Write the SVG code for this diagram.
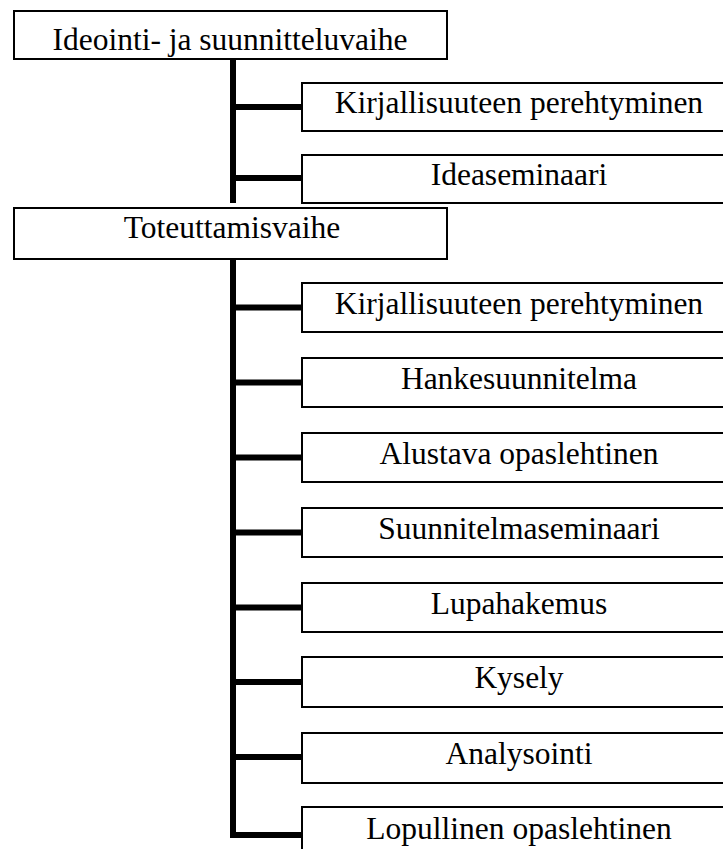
<svg xmlns="http://www.w3.org/2000/svg" width="723" height="849" viewBox="0 0 723 849">
  <style>
    .box { fill: #ffffff; stroke: #000000; stroke-width: 2; }
    .lbl { font-family: "Liberation Serif", "Times New Roman", serif; font-size: 31.5px; fill: #000000; text-anchor: middle; }
    .wire { stroke: #000000; stroke-width: 6; fill: none; }
  </style>
  <rect width="723" height="849" fill="#ffffff"/>

  <!-- connectors -->
  <g id="connectors">
    <path class="wire" d="M233 59 V203"/>
    <path class="wire" d="M233 107 H302"/>
    <path class="wire" d="M233 178 H302"/>
    <path class="wire" d="M233 259 V835 H302"/>
    <path class="wire" d="M233 307.5 H302"/>
    <path class="wire" d="M233 382.5 H302"/>
    <path class="wire" d="M233 457.5 H302"/>
    <path class="wire" d="M233 532.5 H302"/>
    <path class="wire" d="M233 607.5 H302"/>
    <path class="wire" d="M233 682 H302"/>
    <path class="wire" d="M233 757 H302"/>
  </g>

  <!-- phase 1 -->
  <g id="ideointi">
    <rect class="box" x="14" y="11" width="433" height="48"/>
    <text class="lbl" x="230" y="50">Ideointi- ja suunnitteluvaihe</text>
  </g>
  <g id="kirjallisuus1">
    <rect class="box" x="302" y="83" width="434" height="48"/>
    <text class="lbl" x="519" y="113">Kirjallisuuteen perehtyminen</text>
  </g>
  <g id="ideaseminaari">
    <rect class="box" x="302" y="155" width="434" height="48"/>
    <text class="lbl" x="519" y="185">Ideaseminaari</text>
  </g>

  <!-- phase 2 -->
  <g id="toteuttaminen">
    <rect class="box" x="14" y="208" width="433" height="51"/>
    <text class="lbl" x="232" y="238">Toteuttamisvaihe</text>
  </g>
  <g id="kirjallisuus2">
    <rect class="box" x="302" y="283" width="434" height="49"/>
    <text class="lbl" x="519" y="314">Kirjallisuuteen perehtyminen</text>
  </g>
  <g id="hankesuunnitelma">
    <rect class="box" x="302" y="358" width="434" height="49"/>
    <text class="lbl" x="519" y="389">Hankesuunnitelma</text>
  </g>
  <g id="alustava">
    <rect class="box" x="302" y="433" width="434" height="49"/>
    <text class="lbl" x="519" y="464">Alustava opaslehtinen</text>
  </g>
  <g id="suunnitelmaseminaari">
    <rect class="box" x="302" y="508" width="434" height="49"/>
    <text class="lbl" x="519" y="539">Suunnitelmaseminaari</text>
  </g>
  <g id="lupahakemus">
    <rect class="box" x="302" y="583" width="434" height="49"/>
    <text class="lbl" x="519" y="614">Lupahakemus</text>
  </g>
  <g id="kysely">
    <rect class="box" x="302" y="657" width="434" height="50"/>
    <text class="lbl" x="519" y="688">Kysely</text>
  </g>
  <g id="analysointi">
    <rect class="box" x="302" y="733" width="434" height="50"/>
    <text class="lbl" x="519" y="764">Analysointi</text>
  </g>
  <g id="lopullinen">
    <rect class="box" x="302" y="807" width="434" height="50"/>
    <text class="lbl" x="519" y="839">Lopullinen opaslehtinen</text>
  </g>
</svg>
